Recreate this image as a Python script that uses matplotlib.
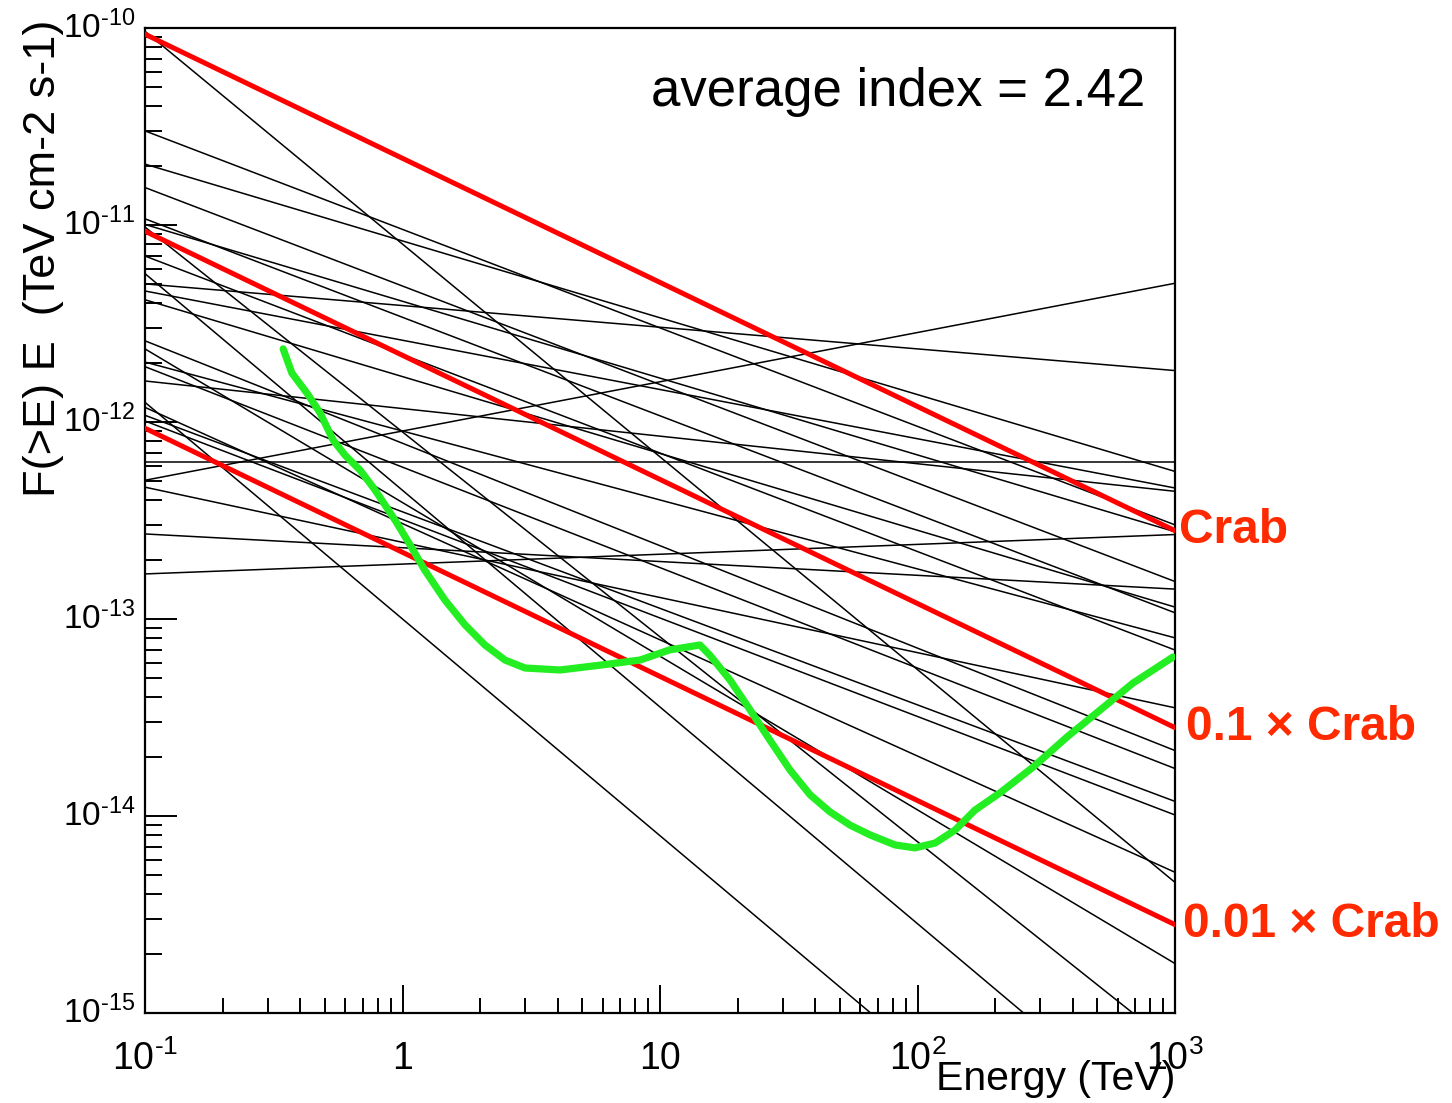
import numpy as np
import matplotlib
matplotlib.use("Agg")
import matplotlib.pyplot as plt
from matplotlib.ticker import FixedLocator, NullFormatter

plt.rcParams['font.family'] = ['Liberation Sans', 'DejaVu Sans']
plt.rcParams['mathtext.fontset'] = 'custom'
plt.rcParams['mathtext.rm'] = 'Liberation Sans'
plt.rcParams['mathtext.it'] = 'Liberation Sans:italic'
plt.rcParams['mathtext.bf'] = 'Liberation Sans:bold'

# Source spectra: E*F(>E) at 1 TeV (TeV cm^-2 s^-1) and photon index
src_flux_1tev = [8.0e-12, 9.5e-12, 8.3e-12, 4.9e-12, 3.4e-12, 4.1e-12, 8.9e-13,
                 2.2e-12, 4.5e-13, 3.9e-12, 2.6e-12, 1.7e-12, 7.8e-13, 3.9e-13,
                 9.0e-13, 5.9e-13, 1.17e-12, 1.0e-13, 3.05e-13, 3.5e-13, 3.2e-13,
                 6.3e-13, 9.0e-13, 2.45e-13, 2.3e-13, 1.9e-13]
src_index = [3.08, 2.50, 2.39, 2.50, 2.50, 2.39, 3.04,
             2.50, 3.10, 2.11, 2.25, 2.39, 2.52, 2.78,
             2.35, 2.51, 2.14, 3.10, 2.59, 2.49, 2.50,
             2.00, 1.75, 2.28, 2.07, 1.95]

# Crab reference spectrum and scaled copies
crab_flux_1tev = 2.18e-11
crab_index = 2.63
crab_fractions = [1.0, 0.1, 0.01]
crab_labels = ["Crab", "0.1 \u00d7 Crab", "0.01 \u00d7 Crab"]

# Integral sensitivity curve
sens_energy = [0.344, 0.372, 0.426, 0.479, 0.537, 0.598, 0.684, 0.782, 0.935, 1.07,
               1.22, 1.46, 1.75, 2.09, 2.50, 2.99, 4.09, 5.85, 8.36, 10.9,
               14.3, 15.6, 18.7, 22.4, 26.7, 32.0, 38.3, 45.7, 54.7, 65.4,
               81.8, 97.7, 117, 140, 167, 209, 281, 381, 512, 687, 982]
sens_flux = [2.35e-12, 1.77e-12, 1.40e-12, 1.11e-12, 8.11e-13, 6.79e-13, 5.70e-13,
             4.52e-13, 3.18e-13, 2.38e-13, 1.77e-13, 1.25e-13, 9.33e-14, 7.38e-14,
             6.19e-14, 5.64e-14, 5.51e-14, 5.83e-14, 6.19e-14, 6.97e-14, 7.38e-14,
             6.56e-14, 4.90e-14, 3.45e-14, 2.43e-14, 1.71e-14, 1.28e-14, 1.05e-14,
             8.99e-15, 8.02e-15, 7.13e-15, 6.89e-15, 7.29e-15, 8.49e-15, 1.07e-14,
             1.31e-14, 1.77e-14, 2.52e-14, 3.45e-14, 4.73e-14, 6.41e-14]

x_ticks = [0.1, 1, 10, 100, 1000]
x_ticklabels = [r"$10^{\text{-}1}$", "1", "10", r"$10^{2}$", r"$10^{3}$"]
y_ticks = [1e-15, 1e-14, 1e-13, 1e-12, 1e-11, 1e-10]
y_ticklabels = [r"$10^{\text{-}15}$", r"$10^{\text{-}14}$", r"$10^{\text{-}13}$",
                r"$10^{\text{-}12}$", r"$10^{\text{-}11}$", r"$10^{\text{-}10}$"]

fig = plt.figure(figsize=(14.52, 11.03), dpi=100)
ax = fig.add_axes([145 / 1452, 1 - 1013 / 1103, 1030 / 1452, 985 / 1103])
ax.set_xscale('log')
ax.set_yscale('log')
ax.set_xlim(0.1, 1000)
ax.set_ylim(1e-15, 1e-10)

energy = np.logspace(-1, 3, 300)

for f1, gam in zip(src_flux_1tev, src_index):
    ax.plot(energy, f1 * energy ** (2.0 - gam), color='black', lw=1.1, zorder=2)

crab_ends = []
for frac in crab_fractions:
    curve = frac * crab_flux_1tev * energy ** (2.0 - crab_index)
    ax.plot(energy, curve, color='#ff0000', lw=3.6, zorder=3)
    crab_ends.append(curve[-1])

ax.plot(sens_energy, sens_flux, color='#22ee22', lw=5.2, zorder=4,
        solid_capstyle='round', solid_joinstyle='round')

for lab, yend, dx in zip(crab_labels, crab_ends, [3, 8, 6]):
    ax.annotate(lab, xy=(1000, yend), xycoords='data',
                xytext=(dx, 0), textcoords='offset points',
                ha='left', va='center', color='#ff2a00',
                fontsize=34.5, fontweight='bold', annotation_clip=False)

ax.text(0.971, 0.935, "average index = 2.42", transform=ax.transAxes,
        ha='right', va='center', fontsize=38, color='black')

# Axes, ticks and labels
ax.xaxis.set_major_locator(FixedLocator(x_ticks))
ax.set_xticklabels(x_ticklabels)
ax.yaxis.set_major_locator(FixedLocator(y_ticks))
ax.set_yticklabels(y_ticklabels)
x_minor = [m * 10.0 ** d for d in range(-1, 3) for m in range(2, 10)]
y_minor = [m * 10.0 ** d for d in range(-15, -10) for m in range(2, 10)]
ax.xaxis.set_minor_locator(FixedLocator(x_minor))
ax.yaxis.set_minor_locator(FixedLocator(y_minor))
ax.xaxis.set_minor_formatter(NullFormatter())
ax.yaxis.set_minor_formatter(NullFormatter())

ax.tick_params(axis='x', which='major', direction='in', length=20, width=1.4,
               labelsize=27, pad=20, top=False)
ax.tick_params(axis='x', which='minor', direction='in', length=11, width=1.4, top=False)
ax.tick_params(axis='y', which='major', direction='in', length=23, width=1.4,
               labelsize=24, pad=7, right=False)
ax.tick_params(axis='y', which='minor', direction='in', length=12, width=1.4, right=False)
for lbl in ax.get_yticklabels():
    lbl.set_verticalalignment('center')

for sp in ax.spines.values():
    sp.set_linewidth(1.6)
    sp.set_color('black')

ax.set_xlabel("Energy (TeV)", fontsize=29.5, ha='right', va='center')
ax.xaxis.set_label_coords(1.0, -0.067)
ax.set_ylabel("F(>E) E  (TeV cm-2 s-1)", fontsize=32.5, ha='right', va='center')
ax.yaxis.set_label_coords(-0.099, 1.008)

fig.savefig("out.png", dpi=100)
